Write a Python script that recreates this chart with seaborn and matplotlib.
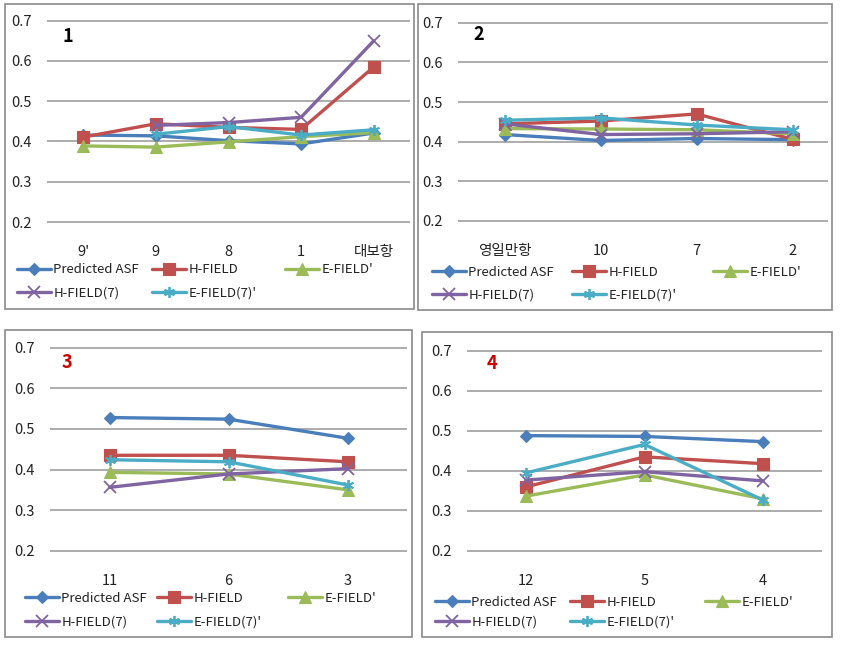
import numpy as np
import pandas as pd
import matplotlib
matplotlib.use("Agg")
import matplotlib.pyplot as plt
from matplotlib.patches import Rectangle
import seaborn as sns

# ---- data ----
series_names = ["Predicted ASF", "H-FIELD", "E-FIELD'", "H-FIELD(7)", "E-FIELD(7)'"]

p1_cats = ["9'", "9", "8", "1", "대보항"]
p1_asf = [0.416, 0.414, 0.402, 0.394, 0.421]
p1_h = [0.411, 0.444, 0.435, 0.430, 0.585]
p1_e = [0.389, 0.386, 0.399, 0.412, 0.422]
p1_h7 = [np.nan, 0.440, 0.447, 0.460, 0.650]
p1_e7 = [np.nan, 0.418, 0.437, 0.416, 0.429]

p2_cats = ["영일만항", "10", "7", "2"]
p2_asf = [0.418, 0.403, 0.408, 0.405]
p2_h = [0.445, 0.452, 0.470, 0.406]
p2_e = [0.433, 0.432, 0.430, 0.420]
p2_h7 = [0.445, 0.418, 0.420, 0.425]
p2_e7 = [0.454, 0.460, 0.442, 0.430]

p3_cats = ["11", "6", "3"]
p3_asf = [0.528, 0.524, 0.477]
p3_h = [0.435, 0.435, 0.419]
p3_e = [0.393, 0.389, 0.350]
p3_h7 = [0.356, 0.389, 0.402]
p3_e7 = [0.424, 0.419, 0.362]

p4_cats = ["12", "5", "4"]
p4_asf = [0.488, 0.486, 0.473]
p4_h = [0.360, 0.435, 0.418]
p4_e = [0.337, 0.390, 0.330]
p4_h7 = [0.377, 0.398, 0.375]
p4_e7 = [0.395, 0.466, 0.327]

panel_labels = ["1", "2", "3", "4"]

# ---- style ----
sns.set_style("white")
plt.rcParams['font.family'] = ['Noto Sans CJK KR', 'DejaVu Sans']

colors = ["#4a7ebb", "#c0504d", "#9bbb59", "#8064a2", "#4bacc6"]
markers = ["D", "s", "^", "x", (6, 2, 0)]
msizes = [6.5, 8.5, 8, 8, 8]

W, H = 841, 646
fig = plt.figure(figsize=(W / 100, H / 100), dpi=100)


def fx(px):
    return px / W


def fy(py):
    return 1 - py / H


# frames (left, top, right, bottom) in pixels
frames = [(5, 4, 414, 309), (418, 4, 832, 310), (5, 330, 412, 637), (422, 332, 832, 637)]
# plot area: left, right, y at 0.7, y at 0.2
areas = [(47, 410, 20.7, 222), (457.7, 828, 22.7, 221), (50, 407, 347.7, 550.7), (466.7, 822.3, 350.7, 551)]
xlims = [(-0.5, 4.5), (-0.49, 3.37), (-0.5, 2.5), (-0.5, 2.5)]
label_pos = [(68, 37), (479, 35), (67, 362), (492, 364)]
label_colors = ["black", "black", "#cc0000", "#cc0000"]
# legend rows (y) and column starts (x) in pixels
leg_rows = [(270, 293), (272, 295), (598, 622), (602, 622)]
leg_cols = [(17, 152, 285), (432, 572, 713), (25, 157, 288), (435, 570, 705)]

panels = [
    (p1_cats, [p1_asf, p1_h, p1_e, p1_h7, p1_e7]),
    (p2_cats, [p2_asf, p2_h, p2_e, p2_h7, p2_e7]),
    (p3_cats, [p3_asf, p3_h, p3_e, p3_h7, p3_e7]),
    (p4_cats, [p4_asf, p4_h, p4_e, p4_h7, p4_e7]),
]

for i, (cats, vals) in enumerate(panels):
    fl, ft, fr, fb = frames[i]
    fig.add_artist(Rectangle((fx(fl), fy(fb)), fx(fr - fl), (fb - ft) / H,
                             transform=fig.transFigure, fill=False,
                             edgecolor="#8a8a8a", linewidth=1.2))

    left, right, y7, y2 = areas[i]
    per = (y2 - y7) / 0.5
    top_px = y7 - 0.005 * per
    bot_px = y2 + 0.005 * per
    ax = fig.add_axes([fx(left), fy(bot_px), fx(right - left), (bot_px - top_px) / H])

    for j, name in enumerate(series_names):
        df = pd.DataFrame({"x": cats, "y": vals[j]})
        sns.lineplot(data=df, x="x", y="y", ax=ax, color=colors[j], marker=markers[j],
                     markersize=msizes[j], markeredgewidth=1.3 if j >= 3 else 0.8,
                     markeredgecolor=colors[j], linewidth=2.4, label=name,
                     legend=False, sort=False)

    ax.set_ylim(0.195, 0.705)
    ax.set_xlim(*xlims[i])
    ax.set_yticks([0.2, 0.3, 0.4, 0.5, 0.6, 0.7])
    ax.set_yticklabels(["0.2", "0.3", "0.4", "0.5", "0.6", "0.7"])
    ax.grid(axis="y", color="#a6a6a6", linewidth=1.3)
    ax.grid(axis="x", visible=False)
    ax.set_axisbelow(True)
    for s in ax.spines.values():
        s.set_visible(False)
    ax.tick_params(axis="y", length=0, pad=11, labelsize=10.5, labelcolor="#222222")
    ax.tick_params(axis="x", length=0, pad=15, labelsize=10.5, labelcolor="#222222")
    ax.set_xlabel("")
    ax.set_ylabel("")

    lx, ly = label_pos[i]
    fig.text(fx(lx), fy(ly), panel_labels[i], fontsize=13, fontweight="bold",
             color=label_colors[i], ha="center", va="center")

    handles, labels = ax.get_legend_handles_labels()
    r1, r2 = leg_rows[i]
    c1, c2, c3 = leg_cols[i]
    spots = [(c1, r1), (c2, r1), (c3, r1), (c1, r2), (c2, r2)]
    for h, lab, (px, py) in zip(handles, labels, spots):
        fig.legend(handles=[h], labels=[lab], loc="center left",
                   bbox_to_anchor=(fx(px), fy(py)), frameon=False, fontsize=9.5,
                   handlelength=2.6, handletextpad=0.15, borderpad=0,
                   borderaxespad=0, labelcolor="#222222")

fig.savefig("out.png", dpi=100)
